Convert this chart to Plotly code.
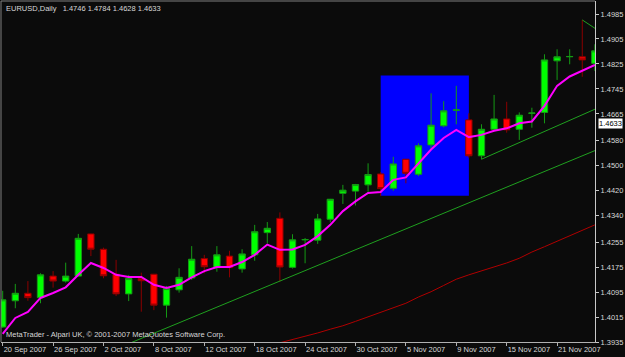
import plotly.graph_objects as go

# ---- data ----
dates = ["20 Sep", "21 Sep", "24 Sep", "25 Sep", "26 Sep", "27 Sep", "28 Sep",
         "1 Oct", "2 Oct", "3 Oct", "4 Oct", "5 Oct", "8 Oct", "9 Oct", "10 Oct", "11 Oct", "12 Oct",
         "15 Oct", "16 Oct", "17 Oct", "18 Oct", "19 Oct", "22 Oct", "23 Oct", "24 Oct", "25 Oct", "26 Oct",
         "29 Oct", "30 Oct", "31 Oct", "1 Nov", "2 Nov", "5 Nov", "6 Nov", "7 Nov", "8 Nov", "9 Nov",
         "12 Nov", "13 Nov", "14 Nov", "15 Nov", "16 Nov", "19 Nov", "20 Nov", "21 Nov", "22 Nov", "23 Nov", "26 Nov"]

open_ = [1.3983, 1.4067, 1.4091, 1.4077, 1.4146, 1.4130, 1.4146, 1.4281, 1.4232, 1.4152, 1.4089, 1.4138,
         1.4152, 1.4053, 1.4102, 1.4140, 1.4202, 1.4173, 1.4210, 1.4169, 1.4214, 1.4285, 1.4331, 1.4174,
         1.4262, 1.4261, 1.4328, 1.4411, 1.4418, 1.4438, 1.4473, 1.4427, 1.4520, 1.4472, 1.4566, 1.4627,
         1.4677, 1.4646, 1.4531, 1.4616, 1.4649, 1.4616, 1.4667, 1.4670, 1.4835, 1.4848, 1.4848, 1.4827]
high = [1.4099, 1.4121, 1.4130, 1.4155, 1.4162, 1.4189, 1.4281, 1.4282, 1.4237, 1.4198, 1.4149, 1.4157,
        1.4153, 1.4114, 1.4171, 1.4242, 1.4214, 1.4242, 1.4227, 1.4232, 1.4310, 1.4319, 1.4350, 1.4280,
        1.4268, 1.4345, 1.4393, 1.4438, 1.4441, 1.4507, 1.4479, 1.4528, 1.4521, 1.4571, 1.4731, 1.4706,
        1.4755, 1.4667, 1.4632, 1.4726, 1.4704, 1.4670, 1.4685, 1.4856, 1.4872, 1.4872, 1.4966, 1.4888]
low = [1.3980, 1.4043, 1.4067, 1.4059, 1.4109, 1.4125, 1.4144, 1.4210, 1.4139, 1.4082, 1.4066, 1.4032,
       1.4037, 1.4013, 1.4093, 1.4134, 1.4155, 1.4160, 1.4142, 1.4157, 1.4195, 1.4251, 1.4128, 1.4170,
       1.4187, 1.4249, 1.4318, 1.4377, 1.4372, 1.4416, 1.4402, 1.4419, 1.4443, 1.4466, 1.4552, 1.4622,
       1.4632, 1.4525, 1.4520, 1.4611, 1.4605, 1.4582, 1.4621, 1.4635, 1.4774, 1.4824, 1.4784, 1.4803]
close = [1.4070, 1.4091, 1.4077, 1.4150, 1.4130, 1.4146, 1.4267, 1.4232, 1.4147, 1.4089, 1.4138, 1.4131,
         1.4053, 1.4106, 1.4142, 1.4200, 1.4176, 1.4214, 1.4173, 1.4217, 1.4288, 1.4299, 1.4175, 1.4262,
         1.4263, 1.4329, 1.4392, 1.4421, 1.4439, 1.4471, 1.4426, 1.4505, 1.4475, 1.4563, 1.4629, 1.4675,
         1.4678, 1.4531, 1.4616, 1.4649, 1.4614, 1.4661, 1.4668, 1.4838, 1.4848, 1.4849, 1.4838, 1.4867]

ma_fast = [1.3961, 1.4012, 1.4031, 1.4076, 1.4092, 1.4110, 1.4150, 1.4188, 1.4172, 1.4150, 1.4143, 1.4143,
           1.4118, 1.4108, 1.4118, 1.4142, 1.4162, 1.4175, 1.4175, 1.4191, 1.4214, 1.4247, 1.4230, 1.4231,
           1.4246, 1.4274, 1.4310, 1.4354, 1.4385, 1.4412, 1.4415, 1.4454, 1.4462, 1.4505, 1.4551, 1.4588,
           1.4614, 1.4591, 1.4598, 1.4611, 1.4619, 1.4635, 1.4641, 1.4691, 1.4755, 1.4785, 1.4804, 1.4822]

ma_slow_start = 21
ma_slow = [1.3922, 1.3932, 1.3942, 1.3952, 1.3964, 1.3976, 1.3987, 1.4001, 1.4016, 1.4030, 1.4044, 1.4059,
           1.4079, 1.4096, 1.4116, 1.4136, 1.4150, 1.4162, 1.4175, 1.4188, 1.4203, 1.4223, 1.4240, 1.4258,
           1.4276, 1.4294, 1.4310]

# trend lines: (bar index, price) end points
trend_low_x = [10.26, 47.5]
trend_low_y = [1.3934, 1.4556]
trend_up_x = [38, 47.5]
trend_up_y = [1.4520, 1.4689]
trend_short_x = [46, 47.5]
trend_short_y = [1.4966, 1.4926]

# highlighted box (bar index range, price range)
box_x = [30, 37]
box_y = [1.4403, 1.4788]

tick_idx = list(range(0, 48, 4))
tick_text = ["20 Sep 2007", "26 Sep 2007", "2 Oct 2007", "8 Oct 2007", "12 Oct 2007", "18 Oct 2007",
             "24 Oct 2007", "30 Oct 2007", "5 Nov 2007", "9 Nov 2007", "15 Nov 2007", "21 Nov 2007"]
y_ticks = [1.4985, 1.4905, 1.4825, 1.4745, 1.4665, 1.4580, 1.4500, 1.4420, 1.4340, 1.4255, 1.4175,
           1.4095, 1.4015, 1.3935]
last_price = 1.4633
title_text = "EURUSD,Daily\u00a0\u00a0 1.4746 1.4784 1.4628 1.4633"
footer_text = "MetaTrader - Alpari UK, \u00a9 2001-2007 MetaQuotes Software Corp."

# ---- figure ----
BG = "#0B0B0B"
FG = "#D8D8D8"
FONT = "Liberation Sans"
xs = list(range(len(dates)))

fig = go.Figure()
fig.add_trace(go.Scatter(x=trend_low_x, y=trend_low_y, mode="lines",
                         line=dict(color="#1FA01F", width=1), hoverinfo="skip"))
fig.add_trace(go.Scatter(x=trend_up_x, y=trend_up_y, mode="lines",
                         line=dict(color="#1FA01F", width=1), hoverinfo="skip"))
fig.add_trace(go.Scatter(x=trend_short_x, y=trend_short_y, mode="lines",
                         line=dict(color="#1FA01F", width=1), hoverinfo="skip"))
fig.add_trace(go.Scatter(x=list(range(ma_slow_start, ma_slow_start + len(ma_slow))), y=ma_slow,
                         mode="lines", line=dict(color="#B00000", width=1), hoverinfo="skip"))
fig.add_trace(go.Candlestick(
    x=xs, open=open_, high=high, low=low, close=close,
    increasing=dict(line=dict(color="#159A15", width=1), fillcolor="#00FF00"),
    decreasing=dict(line=dict(color="#8A0000", width=1), fillcolor="#FF0000"),
    whiskerwidth=0, hoverinfo="skip"))
fig.add_trace(go.Scatter(x=xs, y=ma_fast, mode="lines",
                         line=dict(color="#FF00FF", width=2), hoverinfo="skip"))

fig.add_shape(type="rect", xref="x", yref="y", x0=box_x[0], x1=box_x[1], y0=box_y[0], y1=box_y[1],
              fillcolor="#0000FF", line=dict(width=0), layer="below")
# chart frame (left / top)
fig.add_shape(type="line", xref="paper", yref="paper", x0=0, x1=0, y0=0, y1=1,
              line=dict(color="#808080", width=1))
fig.add_shape(type="line", xref="paper", yref="paper", x0=0, x1=1, y0=1, y1=1,
              line=dict(color="#808080", width=1))

fig.add_annotation(xref="paper", yref="paper", x=0, y=1, xanchor="left", yanchor="top",
                   xshift=3, yshift=-1, text=title_text, showarrow=False,
                   font=dict(family=FONT, size=7.5, color=FG))
fig.add_annotation(xref="paper", yref="paper", x=0, y=0, xanchor="left", yanchor="bottom",
                   xshift=3, yshift=1, text=footer_text, showarrow=False,
                   font=dict(family=FONT, size=7.5, color=FG))
fig.add_annotation(xref="paper", yref="y", x=1, y=last_price, xanchor="left", yanchor="middle",
                   xshift=3, text=f"{last_price:.4f}", showarrow=False, bgcolor="#FFFFFF",
                   borderpad=0, font=dict(family=FONT, size=7.5, color="#000000"))

fig.update_layout(
    width=625, height=357,
    margin=dict(l=1, r=30, t=1, b=15, autoexpand=False),
    paper_bgcolor=BG, plot_bgcolor=BG,
    showlegend=False,
    boxgap=0.28,
    font=dict(family=FONT, size=7.5, color=FG),
    xaxis=dict(range=[-0.135, 47.01], tickvals=tick_idx, ticktext=tick_text, tickangle=0,
               ticks="outside", ticklen=3, tickcolor="#B0B0B0", showline=True, linecolor="#B0B0B0",
               showgrid=False, zeroline=False, ticklabelposition="outside right", automargin=False,
               rangeslider=dict(visible=False), fixedrange=True),
    yaxis=dict(side="right", range=[1.3935, 1.50266], tickvals=y_ticks, automargin=False,
               ticktext=[f"{v:.4f}" for v in y_ticks], ticks="outside", ticklen=3,
               tickcolor="#C8C8C8", showline=True, linecolor="#C8C8C8",
               showgrid=False, zeroline=False, fixedrange=True),
)

fig.write_html("out.html")
